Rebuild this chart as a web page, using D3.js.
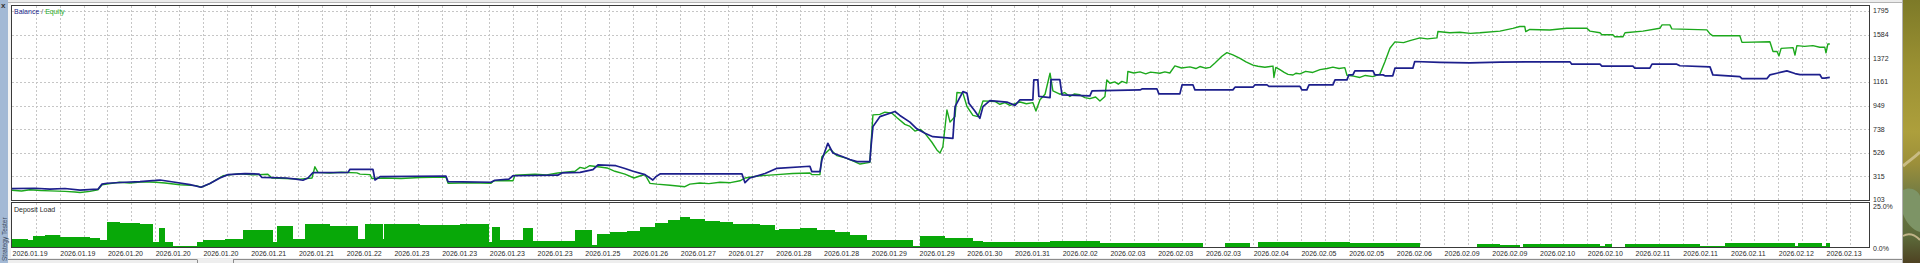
<!DOCTYPE html>
<html>
<head>
<meta charset="utf-8">
<script src="https://cdn.jsdelivr.net/npm/d3@7"></script>
<style>
	html, body { margin: 0; padding: 0; background: #fff; overflow: hidden; }
	svg { display: block; }
	.diagramLabel { font-family: 'Liberation Sans', Arial, sans-serif; font-size: 7px; fill: #2a2a2a; }
</style>
</head>
<body>
<div id="js_chart"></div>
<script>
/*globals d3*/

// x labels, one every second grid slot
const dateLabels = ['2026.01.19', '2026.01.19', '2026.01.20', '2026.01.20', '2026.01.20', '2026.01.21', '2026.01.21',
	'2026.01.22', '2026.01.23', '2026.01.23', '2026.01.23', '2026.01.23', '2026.01.25', '2026.01.26', '2026.01.27',
	'2026.01.27', '2026.01.28', '2026.01.28', '2026.01.29', '2026.01.29', '2026.01.30', '2026.01.31', '2026.02.02',
	'2026.02.03', '2026.02.03', '2026.02.03', '2026.02.04', '2026.02.05', '2026.02.05', '2026.02.06', '2026.02.09',
	'2026.02.09', '2026.02.10', '2026.02.10', '2026.02.11', '2026.02.11', '2026.02.11', '2026.02.12', '2026.02.13'];
const balanceTicks = [103, 315, 526, 738, 949, 1161, 1372, 1584, 1795];
const loadTicks = [25, 0];

// [grid slot, value]
const balance = [[0,205],[0.96,208],[1.59,200],[2.22,206],[2.85,192],[3.60,200],[3.77,245],[3.98,253],[4.73,262],[5.36,268],
	[6.03,278],[6.20,282],[6.83,262],[7.46,240],[7.92,217],[8.29,250],[8.71,300],[9.05,330],[9.76,340],[10.35,335],[10.47,305],
	[11.48,300],[11.90,290],[12.19,280],[12.40,300],[12.61,348],[14.08,350],[14.16,378],[15.12,378],[15.21,282],[15.42,312],
	[18.18,318],[18.27,267],[20.07,262],[20.23,280],[20.82,290],[20.99,320],[22.87,325],[23.04,345],[23.80,350],[24.34,375],
	[24.55,417],[25.30,410],[25.68,385],[26.02,360],[26.52,330],[26.85,282],[26.98,312],[27.15,336],[30.58,338],[30.71,258],
	[30.91,300],[31.55,340],[32.05,387],[33.43,405],[33.51,357],[33.85,357],[33.93,461],[34.18,611],[34.39,524],[34.81,490],
	[35.10,466],[35.40,446],[35.94,446],[35.99,581],[36.07,760],[36.36,849],[36.78,880],[36.99,895],[37.20,860],[37.62,800],
	[37.91,740],[38.25,700],[38.58,670],[39.42,655],[39.51,939],[39.84,1073],[40.01,1060],[40.09,970],[40.34,900],[40.55,835],
	[40.68,939],[40.97,993],[41.68,980],[42.02,950],[42.23,1000],[42.77,1000],[42.81,1178],[42.98,1178],[43.02,1030],[43.49,1020],
	[43.53,1180],[43.90,1180],[43.99,1044],[45.16,1035],[45.25,1080],[47.26,1088],[47.34,1097],[47.97,1097],[48.05,1053],
	[48.93,1053],[49.02,1133],[49.48,1133],[49.56,1089],[51.15,1089],[51.24,1113],[51.99,1113],[52.07,1133],[52.58,1133],
	[52.66,1120],[53.96,1120],[54.04,1089],[54.25,1089],[54.34,1133],[55.34,1133],[55.43,1178],[55.93,1178],[56.01,1223],
	[56.18,1223],[56.26,1259],[57.02,1259],[57.10,1223],[57.44,1223],[57.52,1215],[57.85,1215],[57.94,1283],[58.69,1283],
	[58.77,1343],[59.82,1335],[61.08,1330],[62.34,1338],[63.59,1340],[65.27,1340],[65.35,1319],[66.53,1319],[66.61,1301],
	[67.91,1301],[67.99,1283],[68.62,1283],[68.71,1319],[69.75,1319],[69.88,1305],[71.14,1295],[71.26,1223],[72.39,1208],
	[72.48,1189],[73.52,1189],[73.65,1223],[74.36,1259],[74.70,1235],[74.91,1226],[75.74,1226],[75.83,1194],[75.95,1194],[76.16,1200]];

const equity = [[0,190],[0.4,183],[0.75,195],[1.2,188],[1.59,185],[2.22,180],[2.64,175],[2.85,170],[3.27,180],[3.60,195],[3.77,240],
	[4.11,250],[4.5,262],[4.94,255],[5.5,265],[6.03,262],[6.41,255],[7.04,240],[7.71,232],[7.92,217],[8.29,250],[8.84,320],
	[9.2,330],[9.55,338],[10.1,328],[10.72,333],[10.89,300],[11.48,295],[12.07,290],[12.57,300],[12.69,401],[12.82,350],
	[13.3,345],[13.8,352],[14.45,346],[14.58,335],[15.00,330],[15.08,295],[15.58,300],[16.3,296],[17.09,305],[18.18,308],
	[18.27,253],[19.2,258],[20.07,253],[20.19,275],[20.99,275],[21.07,325],[21.91,335],[22.4,328],[22.87,345],[23.59,360],
	[23.80,395],[24.0,385],[24.21,410],[24.63,398],[24.93,390],[25.26,360],[25.68,335],[26.06,300],[26.3,318],[26.52,330],
	[26.73,252],[27.02,245],[27.57,235],[28.19,222],[28.40,245],[28.82,255],[29.2,250],[29.66,262],[30.1,258],[30.50,275],
	[30.71,300],[31.34,320],[32.05,330],[32.7,340],[33.43,345],[33.51,330],[33.85,330],[33.93,491],[34.27,560],[34.56,500],
	[34.98,475],[35.32,445],[35.53,425],[35.94,440],[36.07,865],[36.36,870],[36.57,890],[36.87,880],[37.08,840],[37.41,780],
	[37.6,765],[37.83,720],[38.05,735],[38.25,700],[38.54,620],[38.75,551],[38.88,524],[39.00,580],[39.17,909],[39.30,800],
	[39.51,850],[39.59,1066],[39.84,1060],[40.01,940],[40.26,860],[40.47,850],[40.68,990],[41.18,985],[41.39,960],[41.6,975],
	[41.81,950],[42.23,980],[42.5,965],[42.77,975],[42.90,900],[43.07,1000],[43.28,1050],[43.49,1238],[43.61,1080],[43.90,1050],
	[44.1,1065],[44.32,1030],[44.5,1052],[44.74,1045],[44.95,1020],[45.16,1010],[45.4,1025],[45.58,990],[45.79,1030],[45.87,1178],
	[46.00,1148],[46.2,1160],[46.35,1140],[46.5,1165],[46.71,1150],[46.75,1253],[47.0,1240],[47.26,1250],[47.5,1232],[47.7,1248],
	[48.09,1238],[48.3,1250],[48.51,1240],[48.72,1304],[49.0,1285],[49.35,1295],[49.6,1280],[49.77,1298],[50.0,1283],[50.19,1290],
	[50.40,1330],[50.69,1390],[50.90,1422],[51.15,1402],[51.45,1370],[51.7,1340],[51.99,1310],[52.2,1300],[52.49,1292],[52.83,1302],
	[52.87,1200],[52.95,1290],[53.12,1270],[53.3,1245],[53.46,1228],[53.67,1222],[53.8,1238],[53.96,1232],[54.2,1255],[54.5,1245],
	[54.8,1270],[55.1,1280],[55.34,1292],[55.6,1280],[55.84,1288],[55.93,1220],[56.2,1212],[56.47,1200],[56.7,1218],[57.02,1208],
	[57.31,1230],[57.52,1340],[57.73,1462],[57.94,1519],[58.3,1512],[58.57,1530],[58.99,1554],[59.3,1545],[59.70,1554],[59.74,1611],
	[60.24,1600],[60.66,1605],[61.1,1595],[61.50,1600],[62.34,1615],[62.88,1640],[63.17,1656],[63.38,1656],[63.42,1610],[63.59,1630],
	[64.43,1625],[65.14,1640],[65.98,1640],[66.11,1615],[66.53,1600],[66.61,1582],[67.07,1582],[67.15,1564],[67.49,1564],
	[67.58,1600],[68.33,1615],[69.04,1640],[69.13,1671],[69.46,1671],[69.54,1635],[71.01,1626],[71.14,1590],[71.26,1573],
	[72.39,1573],[72.48,1514],[73.65,1520],[73.78,1432],[73.95,1432],[74.03,1393],[74.12,1460],[74.62,1467],[74.70,1400],
	[74.78,1485],[75.1,1478],[75.45,1485],[75.74,1470],[75.95,1470],[76.00,1420],[76.08,1500],[76.16,1500]];

// [grid slot, deposit load %]
const depositLoad = [[0,5.0],[0.34,4.6],[0.67,4.2],[0.88,6.5],[1.38,7.0],[2.01,6.3],[2.64,5.8],[3.27,5.2],[3.69,4.4],[3.98,15.0],
	[4.52,14.6],[5.36,14.1],[5.91,3.2],[6.16,11.6],[6.41,3.0],[6.75,0.6],[7.75,3.2],[8.00,4.2],[8.92,4.6],[9.68,10.5],[10.93,3.0],
	[11.10,12.6],[11.77,4.6],[12.27,13.8],[13.32,12.6],[14.50,4.6],[14.79,13.6],[15.54,5.0],[15.58,13.6],[17.09,13.2],[18.77,13.6],
	[19.98,3.0],[20.11,12.2],[20.44,4.2],[21.41,11.7],[21.83,3.6],[23.59,10.1],[24.30,1.2],[24.51,8.1],[25.05,8.8],[25.76,9.5],
	[26.31,12.0],[26.94,14.5],[27.48,16.5],[27.98,18.0],[28.40,16.8],[29.03,15.8],[29.66,14.8],[30.21,13.8],[31.34,13.3],
	[31.96,10.0],[32.13,11.0],[33.01,11.5],[33.72,10.3],[34.48,9.0],[35.11,7.5],[35.82,4.2],[37.75,0.6],[38.04,6.5],[39.09,5.6],
	[40.26,3.6],[40.68,2.8],[41.39,3.2],[43.49,3.8],[44.53,3.4],[45.58,2.6],[49.90,0.2],[50.82,2.6],[51.86,0.2],[52.20,3.0],
	[56.05,2.2],[58.99,0.2],[61.37,1.8],[62.34,1.2],[63.17,0.3],[63.30,1.8],[66.53,0.5],[66.74,1.8],[67.03,0.2],[67.58,1.8],
	[70.72,0.6],[71.76,2.2],[74.70,0.6],[74.83,2.2],[75.83,0.4],[76.00,2.4],[76.16,2.4]];

(function (window) {
	'use strict';
	const width = 1920;
	const height = 263;
	const frame = { left: 11.5, right: 1869.5, top: 5.5, bottom: 200.5 };
	const loadFrame = { top: 202.5, bottom: 247.5 };
	const gridSlots = 77;
	const colorBalance = '#1d1f8c';
	const colorEquity = '#1ca81c';
	const colorLoad = '#08a808';
	const colorGrid = '#c6c6c6';
	const colorFrame = '#3a3a3a';

	let svg = d3.select('#js_chart').append('svg')
		.attr('width', width)
		.attr('height', height);

	let xScale = d3.scaleLinear().domain([0, 76]).range([12, 1826]);
	let yScale = d3.scaleLinear().domain([103, 1795]).range([200, 11]);
	let loadScale = d3.scaleLinear().domain([0, 25]).range([247, 205.5]);

	function crisp(v) { return Math.round(v) + 0.5; }

	function drawChrome() {
		svg.append('rect').attr('width', width).attr('height', height).style('fill', '#ffffff');
		// top border
		svg.append('rect').attr('x', 0).attr('y', 0).attr('width', 1903).attr('height', 3).style('fill', '#ececec');
		svg.append('line').attr('x1', 0).attr('x2', 1903).attr('y1', 2.5).attr('y2', 2.5)
			.style('stroke', '#b4b4b4').style('stroke-width', 1);
		// left tool strip
		svg.append('rect').attr('x', 0).attr('y', 0).attr('width', 8).attr('height', height).style('fill', '#a3b9d5');
		svg.append('rect').attr('x', 8).attr('y', 3).attr('width', 3).attr('height', height).style('fill', '#f2f2f2');
		svg.append('text').attr('x', 1).attr('y', 8)
			.style('font', 'bold 8px "Liberation Sans", Arial, sans-serif').style('fill', '#333').text('x');
		svg.append('text').attr('transform', 'translate(6.5,261) rotate(-90)')
			.style('font', '6.5px "Liberation Sans", Arial, sans-serif').style('fill', '#3c4a60').text('Strategy Tester');
		// bottom tab bar
		svg.append('rect').attr('x', 8).attr('y', 258).attr('width', 1895).attr('height', 5).style('fill', '#eeeeee');
		svg.append('line').attr('x1', 8).attr('x2', 197).attr('y1', 259.5).attr('y2', 259.5).style('stroke', '#8c8c8c');
		svg.append('line').attr('x1', 233).attr('x2', 1903).attr('y1', 259.5).attr('y2', 259.5).style('stroke', '#8c8c8c');
		svg.append('path').attr('d', 'M197.5,259.5V263M233.5,259.5V263').style('stroke', '#8c8c8c').style('fill', 'none');
		// right edge and wallpaper
		svg.append('line').attr('x1', 1902.5).attr('x2', 1902.5).attr('y1', 0).attr('y2', height).style('stroke', '#b0b0b0');
		let defs = svg.append('defs');
		let grad = defs.append('linearGradient').attr('id', 'wall').attr('x1', '0%').attr('y1', '0%').attr('x2', '0%').attr('y2', '100%');
		[['0%', '#7d7a28'], ['25%', '#9a9032'], ['50%', '#ad9f3c'], ['62%', '#9c8f3a'], ['75%', '#6f7a45'], ['90%', '#5c6a3a'], ['100%', '#4e4222']]
			.forEach(function (s) { grad.append('stop').attr('offset', s[0]).attr('stop-color', s[1]); });
		svg.append('rect').attr('x', 1903).attr('y', 0).attr('width', 17).attr('height', height).style('fill', 'url(#wall)');
		svg.append('path').attr('d', 'M1903,166 C1910,160 1915,157 1920,152').style('stroke', '#c9bc84').style('stroke-width', 3).style('fill', 'none');
		svg.append('path').attr('d', 'M1903,190 C1910,186 1918,190 1920,196 L1920,232 C1912,230 1906,222 1903,214 Z').style('fill', '#7d9466');
		svg.append('path').attr('d', 'M1903,236 C1910,232 1916,236 1920,240').style('stroke', '#c0b488').style('stroke-width', 2).style('fill', 'none');
	}

	function drawGrid() {
		let g = svg.append('g').style('stroke', colorGrid).style('stroke-width', 1)
			.style('stroke-dasharray', '2,2').attr('shape-rendering', 'crispEdges');
		let slots = d3.range(1, gridSlots + 1);
		g.selectAll('.vMain').data(slots).enter().append('line')
			.attr('x1', function (d) { return crisp(xScale(d)); })
			.attr('x2', function (d) { return crisp(xScale(d)); })
			.attr('y1', frame.top).attr('y2', frame.bottom);
		g.selectAll('.vLoad').data(slots).enter().append('line')
			.attr('x1', function (d) { return crisp(xScale(d)); })
			.attr('x2', function (d) { return crisp(xScale(d)); })
			.attr('y1', loadFrame.top).attr('y2', loadFrame.bottom);
		g.selectAll('.hMain').data(balanceTicks.slice(1)).enter().append('line')
			.attr('x1', frame.left).attr('x2', frame.right)
			.attr('y1', function (d) { return crisp(yScale(d)); })
			.attr('y2', function (d) { return crisp(yScale(d)); });
	}

	function drawDepositLoad() {
		let area = d3.area()
			.x(function (d) { return xScale(d[0]); })
			.y0(loadScale(0))
			.y1(function (d) { return loadScale(d[1]); })
			.curve(d3.curveStepAfter);
		svg.append('path').datum(depositLoad).attr('d', area)
			.style('fill', colorLoad).attr('shape-rendering', 'crispEdges');
	}

	function drawLines() {
		let line = d3.line()
			.x(function (d) { return xScale(d[0]); })
			.y(function (d) { return yScale(d[1]); });
		svg.append('path').datum(equity).attr('d', line)
			.style('fill', 'none').style('stroke', colorEquity).style('stroke-width', 1.4).style('stroke-linejoin', 'round');
		svg.append('path').datum(balance).attr('d', line)
			.style('fill', 'none').style('stroke', colorBalance).style('stroke-width', 1.7).style('stroke-linejoin', 'round');
	}

	function drawFrames() {
		svg.append('rect').attr('x', frame.left).attr('y', frame.top)
			.attr('width', frame.right - frame.left).attr('height', frame.bottom - frame.top)
			.style('fill', 'none').style('stroke', colorFrame).style('stroke-width', 1);
		svg.append('rect').attr('x', frame.left).attr('y', loadFrame.top)
			.attr('width', frame.right - frame.left).attr('height', loadFrame.bottom - loadFrame.top)
			.style('fill', 'none').style('stroke', colorFrame).style('stroke-width', 1);
	}

	function drawLabels() {
		let title = svg.append('text').attr('x', 14).attr('y', 14).classed('diagramLabel', true);
		title.append('tspan').style('fill', colorBalance).text('Balance');
		title.append('tspan').style('fill', '#555').text(' / ');
		title.append('tspan').style('fill', colorEquity).text('Equity');
		svg.append('text').attr('x', 14).attr('y', 211.5).classed('diagramLabel', true).text('Deposit Load');

		svg.selectAll('.dateLabel').data(dateLabels).enter().append('text')
			.attr('x', function (d, i) { return xScale(i * 2) + 0.5; })
			.attr('y', 256)
			.classed('diagramLabel', true)
			.text(function (d) { return d; });

		svg.selectAll('.valueLabel').data(balanceTicks).enter().append('text')
			.attr('x', 1873).attr('y', function (d) { return yScale(d); }).attr('dy', '.35em')
			.classed('diagramLabel', true)
			.text(function (d) { return d; });

		svg.selectAll('.loadLabel').data(loadTicks).enter().append('text')
			.attr('x', 1873).attr('y', function (d) { return d === 0 ? loadScale(d) + 1.5 : loadScale(d) + 1.2; }).attr('dy', '.35em')
			.classed('diagramLabel', true)
			.text(function (d) { return d.toFixed(1) + '%'; });
	}

	drawChrome();
	drawGrid();
	drawDepositLoad();
	drawLines();
	drawFrames();
	drawLabels();
})(window);
</script>
</body>
</html>
